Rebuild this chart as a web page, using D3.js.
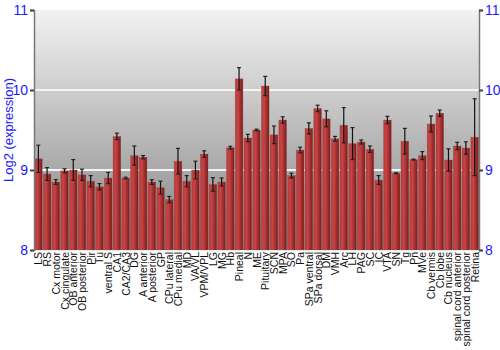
<!DOCTYPE html>
<html>
<head>
<meta charset="utf-8">
<script src="https://cdn.jsdelivr.net/npm/d3@7"></script>
<style>
body { margin: 0; background: #fff; }
text { font-family: "Liberation Sans", Arial, sans-serif; }
</style>
</head>
<body>
<svg id="vis" width="500" height="350"></svg>
<script>
var regions = ["LS", "RS", "Cx motor", "Cx cingulate", "OB anterior", "OB posterior", "Pir", "Tu",
    "ventral S", "CA1", "CA2/CA3", "DG", "A anterior", "A posterior", "GP", "CPu lateral",
    "CPu medial", "MD", "VA/VL", "VPM/VPL", "LG", "MG", "Hb", "Pineal", "N", "ME", "Pituitary",
    "SCN", "MPA", "SO", "Pa", "SPa ventral", "SPa dorsal", "DM", "VMH", "Arc", "LH", "PAG", "SC",
    "IC", "VTA", "SN", "Tg", "Pn", "MVe", "Cb vermis", "Cb lobe", "Cb nucleus",
    "spinal cord anterior", "spinal cord posterior", "Retina"];

var means = [9.14, 8.95, 8.85, 8.99, 9.0, 8.94, 8.86, 8.79,
    8.9, 9.42, 8.9, 9.18, 9.16, 8.85, 8.78, 8.63,
    9.11, 8.86, 9.0, 9.2, 8.82, 8.85, 9.28, 10.14, 9.4, 9.5, 10.05,
    9.44, 9.625, 8.93, 9.25, 9.52, 9.77, 9.64, 9.39, 9.56, 9.33, 9.35, 9.26,
    8.875, 9.625, 8.96, 9.36, 9.13, 9.18, 9.575, 9.71, 9.125,
    9.3, 9.275, 9.41];

var errs = [0.17, 0.08, 0.03, 0.025, 0.13, 0.07, 0.07, 0.04,
    0.07, 0.04, 0.01, 0.12, 0.02, 0.03, 0.08, 0.04,
    0.16, 0.07, 0.11, 0.04, 0.085, 0.05, 0.017, 0.14, 0.046, 0.01, 0.12,
    0.11, 0.04, 0.03, 0.035, 0.07, 0.04, 0.1, 0.03, 0.22, 0.2, 0.025, 0.04,
    0.055, 0.046, 0.005, 0.16, 0.005, 0.05, 0.1, 0.04, 0.14,
    0.046, 0.077, 0.48];

var yTicks = [8, 9, 10, 11];

var svg = d3.select("#vis");
var pLeft = 34, pRight = 479, pTop = 10, pBottom = 250;

var x = d3.scaleBand().domain(regions).range([pLeft, pRight]).padding(0);
var y = d3.scaleLinear().domain([8, 11]).range([pBottom, pTop]);

var defs = svg.append("defs");
var bg = defs.append("linearGradient").attr("id", "bg")
    .attr("x1", 0).attr("y1", 0).attr("x2", 0).attr("y2", 1);
bg.append("stop").attr("offset", "0%").attr("stop-color", "#f2f2f2");
bg.append("stop").attr("offset", "100%").attr("stop-color", "#848484");

var barGrad = defs.append("linearGradient").attr("id", "bar")
    .attr("x1", 0).attr("y1", 0).attr("x2", 1).attr("y2", 0);
barGrad.append("stop").attr("offset", "0%").attr("stop-color", "#b83838");
barGrad.append("stop").attr("offset", "35%").attr("stop-color", "#c84444");
barGrad.append("stop").attr("offset", "100%").attr("stop-color", "#7c1a1a");

// plot background
svg.append("rect")
    .attr("x", pLeft).attr("y", pTop)
    .attr("width", pRight - pLeft).attr("height", pBottom - pTop)
    .attr("fill", "url(#bg)");

// grid lines
svg.selectAll(".grid").data([9, 10]).enter().append("line")
    .attr("class", "grid")
    .attr("x1", pLeft).attr("x2", pRight)
    .attr("y1", d => y(d)).attr("y2", d => y(d))
    .attr("stroke", "#f4f4f4").attr("stroke-width", 2);

// bars
svg.selectAll(".bar").data(regions).enter().append("rect")
    .attr("class", "bar")
    .attr("x", d => x(d) + 0.5)
    .attr("width", x.bandwidth() - 1)
    .attr("y", (d, i) => y(means[i]))
    .attr("height", (d, i) => pBottom - y(means[i]))
    .attr("fill", "url(#bar)")
    .attr("stroke", "#8a5a5a").attr("stroke-opacity", 0.5).attr("stroke-width", 0.6);

// error bars
var eb = svg.selectAll(".err").data(regions).enter().append("g").attr("class", "err");
var cx = d => x(d) + x.bandwidth() / 2;
eb.append("line")
    .attr("x1", cx).attr("x2", cx)
    .attr("y1", (d, i) => y(means[i] + errs[i]))
    .attr("y2", (d, i) => y(means[i] - errs[i]))
    .attr("stroke", "#111").attr("stroke-width", 1.2);
[1, -1].forEach(function(s) {
    eb.append("line")
        .attr("x1", d => cx(d) - 2).attr("x2", d => cx(d) + 2)
        .attr("y1", (d, i) => y(means[i] + s * errs[i]))
        .attr("y2", (d, i) => y(means[i] + s * errs[i]))
        .attr("stroke", "#222").attr("stroke-width", 1.2);
});

// axes
var axL = svg.append("g").attr("transform", `translate(${pLeft},0)`)
    .call(d3.axisLeft(y).tickValues(yTicks).tickFormat(d3.format("d")).tickSize(4).tickPadding(2));
var axR = svg.append("g").attr("transform", `translate(${pRight},0)`)
    .call(d3.axisRight(y).tickValues(yTicks).tickFormat(d3.format("d")).tickSize(4).tickPadding(2));
[axL, axR].forEach(function(ax) {
    ax.select(".domain").attr("stroke", "#777").attr("stroke-width", 1.5);
    ax.selectAll(".tick line").attr("stroke", "#444").attr("stroke-width", 2);
    ax.selectAll(".tick text").attr("fill", "#1a1aff").attr("font-size", "14px")
        .attr("font-family", "'Liberation Sans', Arial, sans-serif");
});

// x labels
svg.selectAll(".xlab").data(regions).enter().append("text")
    .attr("class", "xlab")
    .attr("transform", d => `translate(${cx(d) + 4},${pBottom + 2}) rotate(-90)`)
    .attr("text-anchor", "end")
    .attr("font-size", "10.5px")
    .attr("fill", "#111")
    .text(d => d);

// y label
svg.append("text")
    .attr("transform", `translate(13,${(pTop + pBottom) / 2}) rotate(-90)`)
    .attr("text-anchor", "middle")
    .attr("font-size", "13px")
    .attr("fill", "#1a1aff")
    .text("Log2 (expression)");
</script>
</body>
</html>
